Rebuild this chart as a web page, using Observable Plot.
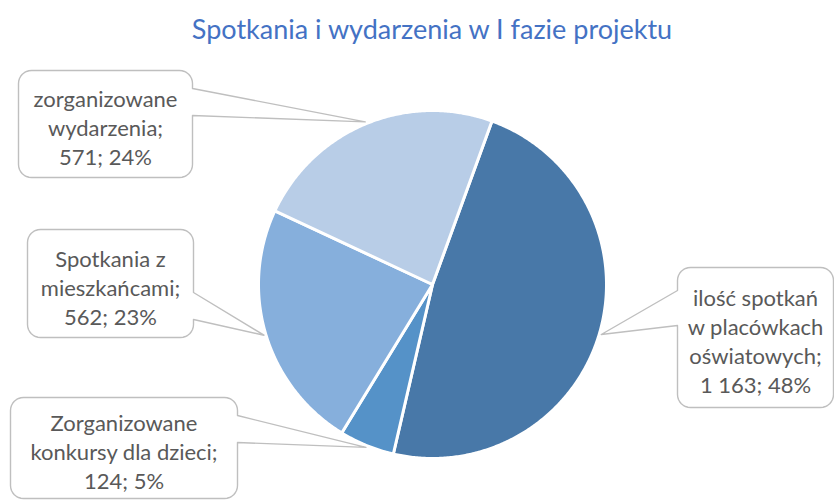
<!DOCTYPE html>
<html>
<head>
<meta charset="utf-8">
<script src="https://cdn.jsdelivr.net/npm/d3@7"></script>
<script src="https://cdn.jsdelivr.net/npm/@observablehq/plot@0.6"></script>
<style>
  html, body { margin: 0; padding: 0; background: #fff; }
  #wrap { width: 834px; height: 500px; position: relative; overflow: hidden; }
  #title { height: 52px; line-height: 58px; font-family: Lato, "Open Sans", sans-serif; font-size: 27px;
           color: #4472C4; text-align: center; padding-left: 30px; box-sizing: border-box; width: 834px; }
</style>
</head>
<body>
<div id="wrap">
  <div id="title">Spotkania i wydarzenia w I fazie projektu</div>
  <div id="chart"></div>
</div>
<script>
// ---- data ----
const categories = [
  "ilość spotkań w placówkach oświatowych",
  "Zorganizowane konkursy dla dzieci",
  "Spotkania z mieszkańcami",
  "zorganizowane wydarzenia"
];
const values = [1163, 124, 562, 571];
const labelNameLines = [
  ["ilość spotkań", "w placówkach", "oświatowych;"],
  ["Zorganizowane", "konkursy dla dzieci;"],
  ["Spotkania z", "mieszkańcami;"],
  ["zorganizowane", "wydarzenia;"]
];
const sliceColors = ["#4878A8", "#5592C8", "#86AFDC", "#B8CDE7"];

// ---- layout (page pixel space) ----
const pieCenter = [432, 284];
const pieRadius = 174;
const firstSliceAngle = 20; // degrees
// callout boxes: [x0, y0, x1, y1], wedge side and wedge base [ya, yb]
const calloutBoxes = [
  {box: [677, 267, 833, 407], side: "left",  wedge: [290, 325]},
  {box: [10, 397, 237, 498],  side: "right", wedge: [415, 442]},
  {box: [27, 229, 193, 337],  side: "right", wedge: [292, 319]},
  {box: [18, 70, 192, 177],   side: "right", wedge: [88, 115]}
];

const total = d3.sum(values);
const fmt = d3.formatLocale({decimal: ",", thousands: "\u00a0", grouping: [3], currency: ["", " zł"]}).format(",d");

const rad = Math.PI / 180;
const arcs = d3.pie().sort(null).startAngle(firstSliceAngle * rad).endAngle((firstSliceAngle + 360) * rad)(values);

const [cx, cy] = pieCenter;
function polar(a, r) { return {x: cx + r * Math.sin(a), y: cy - r * Math.cos(a)}; }

const slicePolys = arcs.map((a, i) => {
  const pts = [{x: cx, y: cy, k: i}];
  const n = Math.max(4, Math.ceil((a.endAngle - a.startAngle) / (0.5 * rad)));
  for (let j = 0; j <= n; j++) {
    const t = a.startAngle + (a.endAngle - a.startAngle) * j / n;
    pts.push({...polar(t, pieRadius), k: i});
  }
  return pts;
});

function calloutPoints(c, tip) {
  const [x0, y0, x1, y1] = c.box;
  const rr = 13;
  const pts = [];
  const arc = (ccx, ccy, a0, a1) => {
    for (let j = 0; j <= 8; j++) {
      const t = (a0 + (a1 - a0) * j / 8) * rad;
      pts.push({x: ccx + rr * Math.cos(t), y: ccy + rr * Math.sin(t)});
    }
  };
  arc(x0 + rr, y0 + rr, 180, 270);
  arc(x1 - rr, y0 + rr, 270, 360);
  if (c.side === "right") {
    pts.push({x: x1, y: c.wedge[0]}, {x: tip.x, y: tip.y}, {x: x1, y: c.wedge[1]});
  }
  arc(x1 - rr, y1 - rr, 0, 90);
  arc(x0 + rr, y1 - rr, 90, 180);
  if (c.side === "left") {
    pts.push({x: x0, y: c.wedge[1]}, {x: tip.x, y: tip.y}, {x: x0, y: c.wedge[0]});
  }
  return pts;
}

const marks = [];
slicePolys.forEach((pts, i) => {
  marks.push(Plot.line(pts, {x: "x", y: "y", curve: "linear-closed", fill: sliceColors[i], stroke: "white", strokeWidth: 3, strokeLinejoin: "round"}));
});

arcs.forEach((a, i) => {
  const mid = (a.startAngle + a.endAngle) / 2;
  const tip = polar(mid, pieRadius + 2);
  const c = calloutBoxes[i];
  marks.push(Plot.line(calloutPoints(c, tip), {x: "x", y: "y", curve: "linear-closed", fill: "white", stroke: "#BFBFBF", strokeWidth: 1.4}));
  const pct = Math.round(values[i] / total * 100);
  const lines = [...labelNameLines[i], `${fmt(values[i])}; ${pct}%`];
  marks.push(Plot.text([lines.join("\n")], {
    x: (c.box[0] + c.box[2]) / 2,
    y: (c.box[1] + c.box[3]) / 2 + 3,
    text: d => d,
    lineAnchor: "middle",
    lineHeight: 1.32,
    fontSize: 22,
    fill: "#595959",
    fontFamily: "Lato, 'Open Sans', sans-serif"
  }));
});

const chart = Plot.plot({
  width: 834,
  height: 448,
  margin: 0,
  x: {domain: [0, 834], range: [0, 834], axis: null},
  y: {domain: [52, 500], range: [0, 448], axis: null},
  style: {background: "white", overflow: "visible"},
  marks
});
document.getElementById("chart").appendChild(chart);
</script>
</body>
</html>
